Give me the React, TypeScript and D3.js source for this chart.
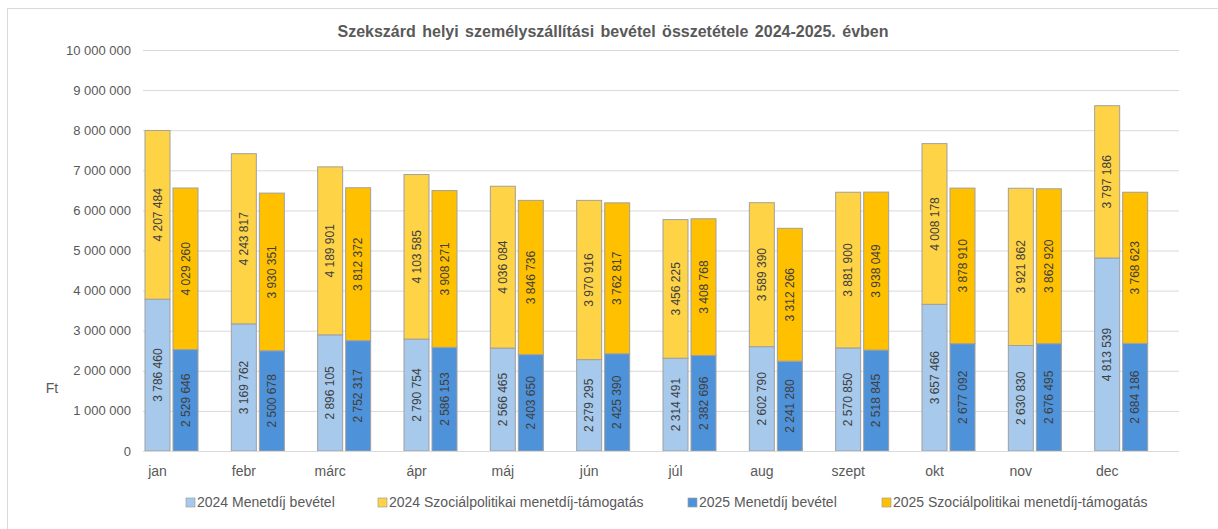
import React from "react";
import * as d3 from "d3";

const months = ["jan", "febr", "márc", "ápr", "máj", "jún", "júl", "aug", "szept", "okt", "nov", "dec"];
const fare2024 = [3786460, 3169762, 2896105, 2790754, 2566465, 2279295, 2314491, 2602790, 2570850, 3657466, 2630830, 4813539];
const social2024 = [4207484, 4243817, 4189901, 4103585, 4036084, 3970916, 3456225, 3589390, 3881900, 4008178, 3921862, 3797186];
const fare2025 = [2529646, 2500678, 2752317, 2586153, 2403650, 2425390, 2382696, 2241280, 2518845, 2677092, 2676495, 2684186];
const social2025 = [4029260, 3930351, 3812372, 3908271, 3846736, 3762817, 3408768, 3312266, 3938049, 3878910, 3862920, 3768623];
const yTicks = [0, 1000000, 2000000, 3000000, 4000000, 5000000, 6000000, 7000000, 8000000, 9000000, 10000000];
const seriesNames = [
  "2024 Menetdíj bevétel",
  "2024 Szociálpolitikai menetdíj-támogatás",
  "2025 Menetdíj bevétel",
  "2025 Szociálpolitikai menetdíj-támogatás",
];
const colors = ["#A6C9EC", "#FFD346", "#4E92D9", "#FFC000"];

const fmt = (v: number) => {
  const s = String(Math.round(v));
  return s.replace(/\B(?=(\d{3})+(?!\d))/g, " ");
};

export default function App() {
  const W = 1218, H = 529;
  const left = 143, right = 1179, top = 50, bottom = 451;
  const x = d3.scaleBand<string>().domain(months).range([left, right]).paddingInner(0).paddingOuter(0);
  const y = d3.scaleLinear().domain([0, 10000000]).range([bottom, top]);
  const bw = 25;
  const off1 = 2;
  const off2 = 30;
  const font = "'Liberation Sans', Arial, sans-serif";

  const bars: any[] = [];
  months.forEach((m, i) => {
    const x0 = (x(m) as number) + off1;
    const x1 = (x(m) as number) + off2;
    const segs = [
      { xx: x0, lo: 0, hi: fare2024[i], c: colors[0], v: fare2024[i] },
      { xx: x0, lo: fare2024[i], hi: fare2024[i] + social2024[i], c: colors[1], v: social2024[i] },
      { xx: x1, lo: 0, hi: fare2025[i], c: colors[2], v: fare2025[i] },
      { xx: x1, lo: fare2025[i], hi: fare2025[i] + social2025[i], c: colors[3], v: social2025[i] },
    ];
    segs.forEach((s, j) => {
      const yt = y(s.hi), yb = y(s.lo);
      bars.push(
        <g key={`${i}-${j}`}>
          <rect x={s.xx} y={yt} width={bw} height={yb - yt} fill={s.c} stroke="#A0A0A0" strokeWidth={1} />
          <text
            transform={`translate(${s.xx + bw / 2 + 4},${(yt + yb) / 2}) rotate(-90)`}
            textAnchor="middle"
            fontSize={12}
            fill="#404040"
            fontFamily={font}
          >
            {fmt(s.v)}
          </text>
        </g>
      );
    });
  });

  const legendX = [186, 378, 688, 882];

  return (
    <svg width={W} height={H} style={{ position: "absolute", left: 0, top: 0, background: "#fff" }}>
      <rect x={7.5} y={8.5} width={1230} height={540} fill="#fff" stroke="#D9D9D9" />
      <text x={613} y={37} textAnchor="middle" fontSize={16} fontWeight="bold" fill="#595959" fontFamily={font} wordSpacing={2}>
        Szekszárd helyi személyszállítási bevétel összetétele 2024-2025. évben
      </text>
      {yTicks.map((t) => (
        <g key={t}>
          {t > 0 && <line x1={left} x2={right} y1={y(t) + 0.5} y2={y(t) + 0.5} stroke="#D9D9D9" strokeWidth={1} />}
          <text x={131} y={y(t) + 4.5} textAnchor="end" fontSize={13} fill="#595959" fontFamily={font}>
            {fmt(t)}
          </text>
        </g>
      ))}
      <text x={52} y={393} textAnchor="middle" fontSize={14} fill="#595959" fontFamily={font}>Ft</text>
      {bars}
      <line x1={left} x2={right} y1={bottom + 0.5} y2={bottom + 0.5} stroke="#D9D9D9" strokeWidth={1} />
      {months.map((m) => (
        <text key={m} x={(x(m) as number) + off1 + bw / 2} y={476} textAnchor="middle" fontSize={14} fill="#595959" fontFamily={font}>
          {m}
        </text>
      ))}
      {seriesNames.map((n, i) => (
        <g key={n}>
          <rect x={legendX[i]} y={498} width={9} height={9} fill={colors[i]} stroke="#A0A0A0" strokeWidth={0.7} />
          <text x={legendX[i] + 11} y={507} fontSize={14} fill="#595959" fontFamily={font}>{n}</text>
        </g>
      ))}
    </svg>
  );
}
